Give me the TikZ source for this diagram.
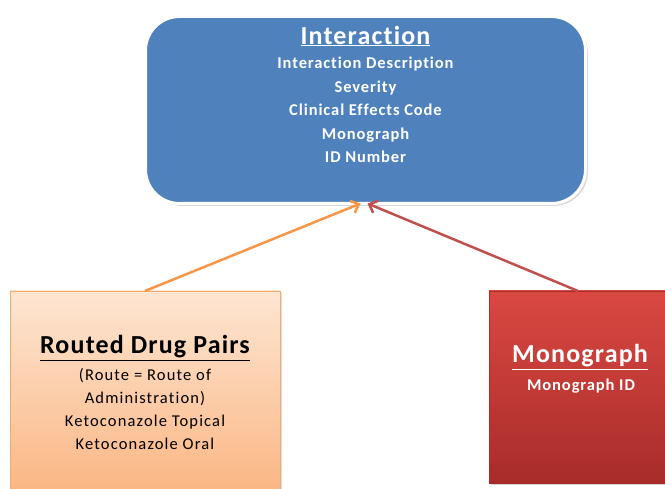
\documentclass[tikz,border=0pt]{standalone}
\usepackage{fontspec}
\setmainfont{Carlito}[Ligatures=NoCommon]
\usetikzlibrary{shadows,arrows.meta}
\definecolor{interblue}{HTML}{4F81BD}
\definecolor{peachtop}{RGB}{253,230,210}
\definecolor{peachbot}{RGB}{250,180,128}
\definecolor{peachline}{RGB}{247,170,110}
\definecolor{redtop}{RGB}{218,72,66}
\definecolor{redbot}{RGB}{168,44,42}
\definecolor{orangelink}{HTML}{F79646}
\definecolor{redlink}{HTML}{C0504D}

\begin{document}
\begin{tikzpicture}[x=1pt,y=-1pt]
\tikzstyle{link}=[line width=2.5pt,-{Straight Barb[length=7pt,width=13pt]}]
\tikzstyle{title}=[font=\bfseries\fontsize{26}{30}\selectfont\addfontfeature{LetterSpace=4.5}]
\tikzstyle{body}=[align=center,font=\fontsize{16.5}{22.7}\selectfont\addfontfeature{LetterSpace=7}]
\tikzstyle{boldbody}=[align=center,font=\bfseries\fontsize{16.5}{23.5}\selectfont\addfontfeature{LetterSpace=5.5}]

\useasboundingbox [fill=white] (0,0) rectangle (665,489);

\node (inter) [draw=white,line width=3pt,rounded corners=34pt,fill=interblue,outer sep=0pt,minimum width=440pt,minimum height=187pt,drop shadow={opacity=0.3}] at (365.5,110) {};
\node (routed) [draw=peachline,outer sep=0pt,top color=peachtop,bottom color=peachbot,minimum width=270pt,minimum height=210pt,drop shadow={opacity=0.25}] at (145,396) {};
\node (mono) [draw=redbot,outer sep=0pt,top color=redtop,bottom color=redbot,minimum width=178pt,minimum height=192pt,drop shadow={opacity=0.35}] at (578,387) {};

\node (intertitle) [title,text=white] at (365.5,36) {\underline{Interaction}};
\node (interbody) [boldbody,text=white] at (365.5,110) {Interaction Description\\Severity\\Clinical Effects Code\\Monograph\\ID Number};

\node (routedtitle) [title] at (145,348) {\underline{Routed Drug Pairs}};
\node (routedbody) [body] at (145,409) {(Route = Route of\\Administration)\\Ketoconazole Topical\\Ketoconazole Oral};

\node (monotitle) [title,text=white] at (580,357) {\underline{Monograph}};
\node (monobody) [boldbody,text=white] at (581,386) {Monograph ID};

\draw [link,orangelink] (routed.north) -- ([xshift=-5pt]inter.south);
\draw [link,redlink] (mono.north) -- ([xshift=2pt]inter.south);

\end{tikzpicture}
\end{document}
